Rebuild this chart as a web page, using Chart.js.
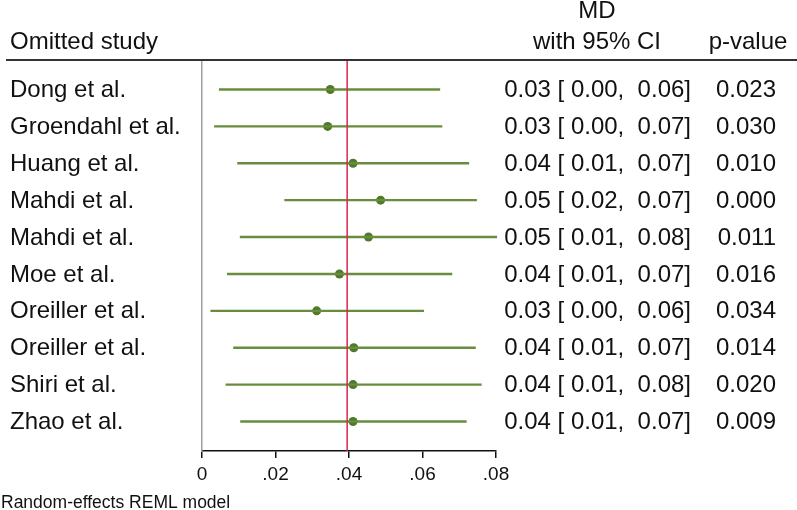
<!DOCTYPE html>
<html>
<head>
<meta charset="utf-8">
<title>Leave-one-out meta-analysis</title>
<script src="https://cdn.jsdelivr.net/npm/chart.js@4/dist/chart.umd.min.js"></script>
<style>
  html, body { margin: 0; padding: 0; background: #fff; }
  #wrap { width: 797px; height: 510px; }
</style>
</head>
<body>
<div id="wrap"><canvas id="forest" width="797" height="510"></canvas></div>
<script>
// omitted studies, top to bottom
const studies = ['Dong et al.', 'Groendahl et al.', 'Huang et al.', 'Mahdi et al.', 'Mahdi et al.',
  'Moe et al.', 'Oreiller et al.', 'Oreiller et al.', 'Shiri et al.', 'Zhao et al.'];
const md = [0.0349, 0.0342, 0.0411, 0.0486, 0.0453, 0.0374, 0.0312, 0.0413, 0.0411, 0.0411];
const ciLow = [0.0046, 0.0033, 0.0096, 0.0224, 0.0103, 0.0068, 0.0023, 0.0085, 0.0064, 0.0104];
const ciHigh = [0.0648, 0.0654, 0.0727, 0.0748, 0.0803, 0.0681, 0.0604, 0.0745, 0.0761, 0.0720];
const pValues = ['0.023', '0.030', '0.010', '0.000', '0.011', '0.016', '0.034', '0.014', '0.020', '0.009'];
const overall = 0.0395;
const tickLabels = ['0', '.02', '.04', '.06', '.08'];

const FONT = '"Liberation Sans", Arial, sans-serif';
const lineGreen = '#678d3d';
const dotGreen = '#4e7a2c';

// one short dataset per CI bar
const ciSets = studies.map((s, i) => ({
  type: 'line',
  label: s,
  data: [{ x: ciLow[i], y: i + 1 }, { x: ciHigh[i], y: i + 1 }],
  borderColor: lineGreen,
  borderWidth: 2.4,
  pointRadius: 0,
  clip: false
}));

const pointSet = {
  type: 'scatter',
  label: 'MD',
  data: md.map((v, i) => ({ x: v, y: i + 1 })),
  backgroundColor: dotGreen,
  borderColor: dotGreen,
  pointRadius: 4.5,
  borderWidth: 0
};

const overallSet = {
  type: 'line',
  label: 'overall',
  data: [{ x: overall, y: 0.2 }, { x: overall, y: 10.8 }],
  borderColor: 'rgb(214, 40, 82)',
  borderWidth: 1.5,
  pointRadius: 0
};

// text columns of the table
const tablePlugin = {
  id: 'table',
  afterDraw(chart) {
    const ctx = chart.ctx;
    const y = chart.scales.y;
    ctx.save();
    ctx.fillStyle = '#111';
    ctx.font = '24px ' + FONT;
    ctx.textBaseline = 'middle';

    // header
    ctx.textAlign = 'left';
    ctx.fillText('Omitted study', 10, 42);
    ctx.textAlign = 'center';
    ctx.fillText('MD', 597, 11);
    ctx.fillText('with 95% CI', 597, 42);
    ctx.fillText('p-value', 748, 42);

    ctx.strokeStyle = '#333';
    ctx.lineWidth = 2;
    ctx.beginPath();
    ctx.moveTo(6, 60);
    ctx.lineTo(797, 60);
    ctx.stroke();

    studies.forEach((s, i) => {
      const py = y.getPixelForValue(i + 1) + 1;
      ctx.textAlign = 'left';
      ctx.fillText(s, 10, py);
      ctx.textAlign = 'right';
      const txt = md[i].toFixed(2) + ' [ ' + ciLow[i].toFixed(2) + ',  ' + ciHigh[i].toFixed(2) + ']';
      ctx.fillText(txt, 691, py);
      ctx.fillText(pValues[i], 776, py);
    });

    ctx.font = '17.5px ' + FONT;
    ctx.textAlign = 'left';
    ctx.textBaseline = 'alphabetic';
    ctx.fillText('Random-effects REML model', 1, 508);
    ctx.restore();
  }
};

new Chart(document.getElementById('forest'), {
  data: { datasets: [overallSet, ...ciSets, pointSet] },
  options: {
    responsive: false,
    animation: false,
    layout: { padding: { left: 202, right: 301, top: 60, bottom: 14 } },
    plugins: { legend: { display: false }, tooltip: { enabled: false } },
    scales: {
      x: {
        type: 'linear',
        min: 0,
        max: 0.08,
        afterFit(scale) { scale.height = 45; },
        ticks: {
          stepSize: 0.02,
          color: '#111',
          padding: 5,
          font: { family: FONT, size: 19 },
          callback: (v, i) => tickLabels[i]
        },
        grid: { drawOnChartArea: false, color: '#111', lineWidth: 1.5, tickLength: 7 },
        border: { display: true, color: '#111', width: 1.5 }
      },
      y: {
        type: 'linear',
        reverse: true,
        min: 0.2,
        max: 10.8,
        afterFit(scale) { scale.width = 0; },
        ticks: { display: false },
        grid: { drawOnChartArea: false, drawTicks: false },
        border: { display: true, color: '#a0a0a0', width: 1.5 }
      }
    }
  },
  plugins: [tablePlugin]
});
</script>
</body>
</html>
